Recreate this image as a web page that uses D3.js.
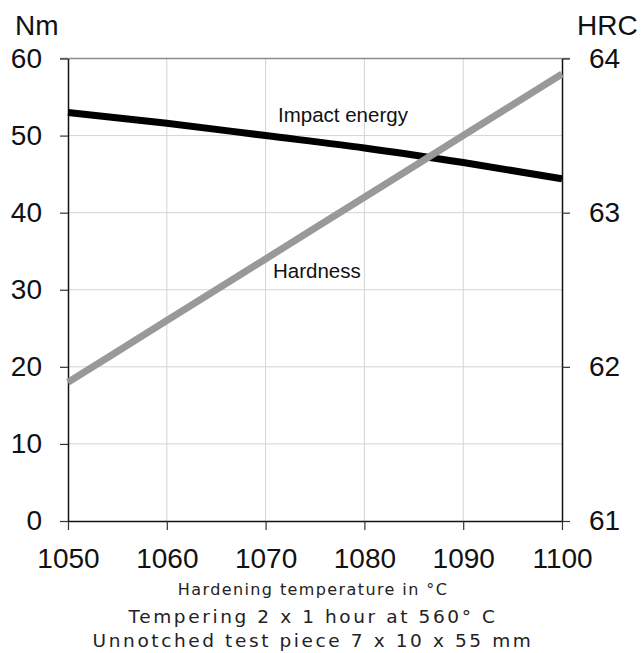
<!DOCTYPE html>
<html>
<head>
<meta charset="utf-8">
<script src="https://cdn.jsdelivr.net/npm/d3@7"></script>
<style>
  body { margin: 0; background: #fff; }
  svg { display: block; }
</style>
</head>
<body>
<svg></svg>
<script>
    const temps = [1050, 1060, 1070, 1080, 1090, 1100];
    const impactEnergy = [53.0, 51.6, 50.0, 48.4, 46.5, 44.4];
    const hardness = [61.9, 62.3, 62.7, 63.1, 63.5, 63.9];
    const nmTicks = [0, 10, 20, 30, 40, 50, 60];
    const hrcTicks = [61, 62, 63, 64];
    const xLabel = "Hardening temperature in °C";
    const notes = ["Tempering 2 x 1 hour at 560° C", "Unnotched test piece 7 x 10 x 55 mm"];

    const width = 644;
    const height = 653;
    const marginTop = 58.5;
    const marginLeft = 68;
    const marginRight = 82;
    const marginBottom = 132;

    const x = d3.scaleLinear()
        .domain([1050, 1100])
        .range([marginLeft, width - marginRight]);

    const yL = d3.scaleLinear()
        .domain([0, 60])
        .range([height - marginBottom, marginTop]);

    const yR = d3.scaleLinear()
        .domain([61, 64])
        .range([height - marginBottom, marginTop]);

    const svg = d3.select('svg')
        .attr('width', width)
        .attr('height', height)
        .style('font-family', 'Liberation Sans, Arial, sans-serif');

    // grid
    svg.append('g')
        .attr('stroke', '#d4d4d4')
        .attr('stroke-width', 1)
        .call(g => g.selectAll('.vg').data(temps.slice(1, -1)).join('line')
            .attr('x1', d => x(d)).attr('x2', d => x(d))
            .attr('y1', yL(0)).attr('y2', yL(60)))
        .call(g => g.selectAll('.hg').data(nmTicks.slice(1, -1)).join('line')
            .attr('x1', x(1050)).attr('x2', x(1100))
            .attr('y1', d => yL(d)).attr('y2', d => yL(d)));

    // top border
    svg.append('line')
        .attr('x1', x(1050) - 8).attr('x2', x(1100) + 8)
        .attr('y1', yL(60)).attr('y2', yL(60))
        .attr('stroke', '#8c8c8c').attr('stroke-width', 1.5);

    const styleAxis = g => {
        g.attr('font-size', 28).attr('font-family', 'Liberation Sans, Arial, sans-serif');
        g.selectAll('.domain').attr('stroke', '#111').attr('stroke-width', 1.5);
        g.selectAll('.tick line').attr('stroke', '#333').attr('stroke-width', 1.2);
        g.selectAll('.tick text').attr('fill', '#111');
    };

    svg.append('g')
        .attr('transform', `translate(0,${yL(0)})`)
        .call(d3.axisBottom(x).tickValues(temps).tickFormat(d3.format('d')).tickSize(9).tickPadding(18).tickSizeOuter(0))
        .call(styleAxis);

    svg.append('g')
        .attr('transform', `translate(${marginLeft},0)`)
        .call(d3.axisLeft(yL).tickValues(nmTicks).tickSize(8).tickPadding(18).tickSizeOuter(0))
        .call(styleAxis);

    svg.append('g')
        .attr('transform', `translate(${width - marginRight},0)`)
        .call(d3.axisRight(yR).tickValues(hrcTicks).tickFormat(d3.format('d')).tickSize(8).tickPadding(19).tickSizeOuter(0))
        .call(styleAxis);

    // unit labels
    svg.append('text').attr('x', 15).attr('y', 35)
        .attr('font-size', 28).attr('fill', '#111').text('Nm');
    svg.append('text').attr('x', 577).attr('y', 35)
        .attr('font-size', 28).attr('fill', '#111').text('HRC');

    // lines
    const lineL = d3.line()
        .x((d, i) => x(temps[i]))
        .y(d => yL(d))
        .curve(d3.curveMonotoneX);

    const lineR = d3.line()
        .x((d, i) => x(temps[i]))
        .y(d => yR(d))
        .curve(d3.curveMonotoneX);

    svg.append('path')
        .attr('fill', 'none')
        .attr('stroke', '#000')
        .attr('stroke-width', 7)
        .attr('d', lineL(impactEnergy));

    svg.append('path')
        .attr('fill', 'none')
        .attr('stroke', '#999')
        .attr('stroke-width', 7)
        .attr('d', lineR(hardness));

    // series labels
    svg.append('text').attr('x', 278).attr('y', 122)
        .attr('font-size', 20.5).attr('fill', '#111').text('Impact energy');
    svg.append('text').attr('x', 273).attr('y', 278)
        .attr('font-size', 20.5).attr('fill', '#111').text('Hardness');

    // bottom texts
    const cx = (x(1050) + x(1100)) / 2 - 2;
    svg.append('text').attr('x', cx).attr('y', 595)
        .attr('text-anchor', 'middle')
        .attr('font-family', 'DejaVu Sans, sans-serif')
        .attr('font-size', 16).attr('letter-spacing', 1.4).attr('fill', '#222')
        .text(xLabel);
    svg.selectAll('.note').data(notes).join('text')
        .attr('x', cx)
        .attr('y', (d, i) => 623 + i * 24)
        .attr('text-anchor', 'middle')
        .attr('font-family', 'DejaVu Sans, sans-serif')
        .attr('font-size', 18.5).attr('letter-spacing', 2.6).attr('fill', '#222')
        .text(d => d);
</script>
</body>
</html>
